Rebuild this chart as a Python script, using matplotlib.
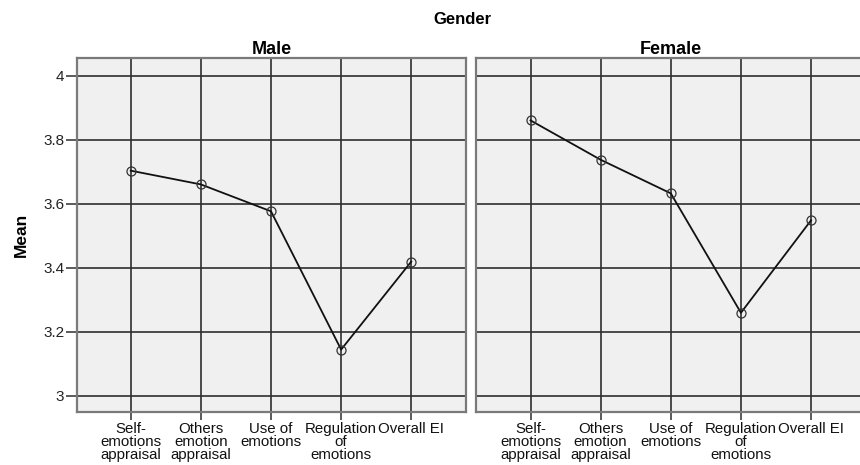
import matplotlib
matplotlib.use("Agg")
import matplotlib.pyplot as plt

plt.rcParams['font.family'] = ['Liberation Sans', 'DejaVu Sans']

categories = ["Self-\nemotions\nappraisal", "Others\nemotion\nappraisal", "Use of\nemotions",
              "Regulation\nof\nemotions", "Overall EI"]
male = [3.703, 3.660, 3.576, 3.144, 3.419]
female = [3.860, 3.737, 3.632, 3.259, 3.548]
yticks = [3, 3.2, 3.4, 3.6, 3.8, 4]
yticklabels = ["3", "3.2", "3.4", "3.6", "3.8", "4"]

W, H = 860, 465
fig = plt.figure(figsize=(W / 100, H / 100), dpi=100)

grid_c = '#2e2e2e'
spine_c = '#7a7a7a'
bg = '#f0f0f0'

def make_ax(left_px, title, values, show_y):
    ax = fig.add_axes([left_px / W, 1 - 412 / H, 389.5 / W, (412 - 58.3) / H])
    ax.set_facecolor(bg)
    x = list(range(len(categories)))
    ax.set_xlim(-0.77, 4.783)
    ax.set_ylim(2.949, 4.054)
    for yv in yticks:
        ax.axhline(yv, color=grid_c, lw=1.2, zorder=1)
    for xv in x:
        ax.axvline(xv, color=grid_c, lw=1.2, zorder=1)
    ax.plot(x, values, color='#111111', lw=1.3, zorder=3)
    ax.plot(x, values, linestyle='none', marker='o', ms=6.5, mfc='none',
            mec='#333333', mew=0.9, zorder=4)
    ax.set_xticks(x)
    ax.set_xticklabels(categories, fontsize=10.8, linespacing=0.88, color='#111111')
    ax.tick_params(axis='x', length=6, width=1.1, color=grid_c, pad=1.5)
    if show_y:
        ax.set_yticks(yticks)
        ax.set_yticklabels(yticklabels, fontsize=11, color='#222222')
        ax.tick_params(axis='y', length=8, width=1.1, color=grid_c, pad=1)
        ax.set_ylabel("Mean", fontsize=12.5, fontweight='bold', labelpad=10)
    else:
        ax.set_yticks([])
    for s in ax.spines.values():
        s.set_color(spine_c)
        s.set_linewidth(1.6)
    ax.set_title(title, fontsize=13, fontweight='bold', pad=3)
    return ax

make_ax(76.7, "Male", male, True)
make_ax(476.5, "Female", female, False)

fig.text(462 / W, 1 - 20 / H, "Gender", ha='center', va='center',
         fontsize=12, fontweight='bold')

fig.savefig("out.png", dpi=100, facecolor='white')
